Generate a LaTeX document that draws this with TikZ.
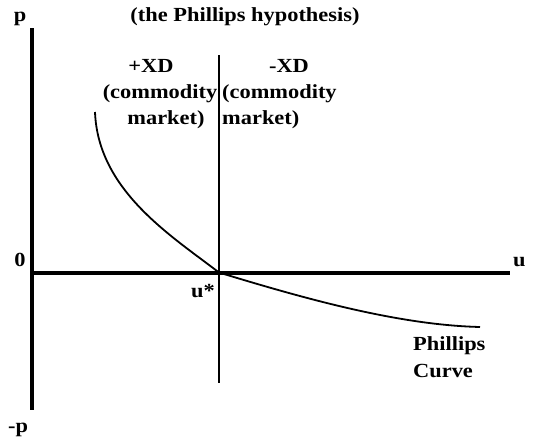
\documentclass[tikz,border=0pt]{standalone}
\usepackage{fontspec}
\setmainfont{Liberation Serif}[FakeStretch=1.12]
\begin{document}
\begin{tikzpicture}[x=1pt,y=-1pt,
  lbl/.style={font=\fontsize{20}{26}\selectfont\bfseries, inner sep=0pt, anchor=base},
  lblw/.style={lbl, anchor=base west},
  axis/.style={line width=4pt},
  divider/.style={line width=2.5pt},
  pcurve/.style={line width=1.8pt}]
\useasboundingbox (0,0) rectangle (535,442);
\coordinate (ytop) at (32,28);
\coordinate (ybot) at (32,410);
\coordinate (origin) at (32,272.5);
\coordinate (xend) at (510,272.5);
\coordinate (ustar) at (219,272.5);
\coordinate (dtop) at (219,55);
\coordinate (dbot) at (219,383);
\coordinate (cstart) at (95,112);
\coordinate (cend) at (480,327);
\draw[axis] (ytop) -- (ybot);
\draw[axis] (origin) -- (xend);
\draw[divider] (dtop) -- (dbot);
\draw[pcurve] (cstart) .. controls (98,190) and (170,235) .. (ustar)
  .. controls (309,300) and (400,325) .. (cend);
\node[lbl] (plab) at (20,21) {p};
\node[lbl] (title) at (245,21) {(the Phillips hypothesis)};
\node[lbl] (pxd) at (151,72) {+XD};
\node[lbl] (pcom) at (160,98) {(commodity};
\node[lbl] (pmkt) at (166,124) {market)};
\node[lbl] (mxd) at (289,72) {-XD};
\node[lblw] (mcom) at (222,98) {(commodity};
\node[lblw] (mmkt) at (222,124) {market)};
\node[lbl] (zero) at (20,266) {0};
\node[lblw] (ulab) at (513,266) {u};
\node[lbl] (ustarlab) at (203,297) {u*};
\node[lbl] (mp) at (18,432) {-p};
\node[lblw] (phil) at (413,350) {Phillips};
\node[lblw] (curv) at (413,377) {Curve};
\end{tikzpicture}
\end{document}
